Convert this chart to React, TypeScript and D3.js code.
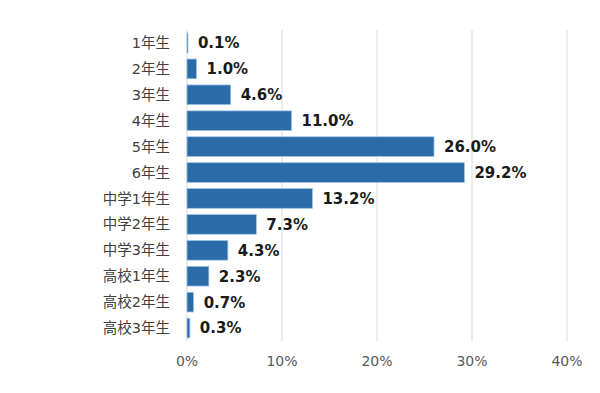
import React from "react";
import * as d3 from "d3";

const grades = ["1年生", "2年生", "3年生", "4年生", "5年生", "6年生", "中学1年生", "中学2年生", "中学3年生", "高校1年生", "高校2年生", "高校3年生"];
const shares = [0.1, 1.0, 4.6, 11.0, 26.0, 29.2, 13.2, 7.3, 4.3, 2.3, 0.7, 0.3];
const xTicks = [0, 10, 20, 30, 40];

export default function App() {
    const width = 600, height = 393;
    const top = 30, bottom = 341, left = 187, right = 567;

    // x scale, 0..40 %
    const x = d3.scaleLinear().domain([0, 40]).range([left, right]);

    // one band per grade
    const y = d3.scaleBand()
        .domain(grades)
        .range([top, bottom])
        .paddingInner(0.24)
        .paddingOuter(0.12);

    const font = "'DejaVu Sans', 'Noto Sans CJK JP', sans-serif";

    return (
        <svg width={width} height={height} style={{position: "absolute", left: 0, top: 0}} fontFamily={font}>
            <rect width={width} height={height} fill="#fff"/>
            {xTicks.map(t => (
                <g key={t}>
                    <line x1={x(t)} x2={x(t)} y1={top} y2={bottom} stroke="#d9d9d9" strokeWidth={1}/>
                    <text x={x(t)} y={366} textAnchor="middle" fontSize={14} fill="#595959">{t}%</text>
                </g>
            ))}
            {grades.map((g, i) => {
                const yy = y(g)!;
                const bw = x(shares[i]) - x(0);
                return (
                    <g key={g}>
                        <rect x={x(0)} y={yy} width={Math.max(bw, 1)} height={y.bandwidth()}
                              fill="#2b6ca8" stroke="#9dc3e6" strokeWidth={0.75}/>
                        <text x={170} y={yy + y.bandwidth() / 2} dy="0.35em" textAnchor="end"
                              fontSize={14.5} fill="#404040">{g}</text>
                        <text x={x(shares[i]) + 10} y={yy + y.bandwidth() / 2} dy="0.36em"
                              fontSize={15} fontWeight="bold" fill="#1a1a1a">{shares[i].toFixed(1)}%</text>
                    </g>
                );
            })}
        </svg>
    );
}
